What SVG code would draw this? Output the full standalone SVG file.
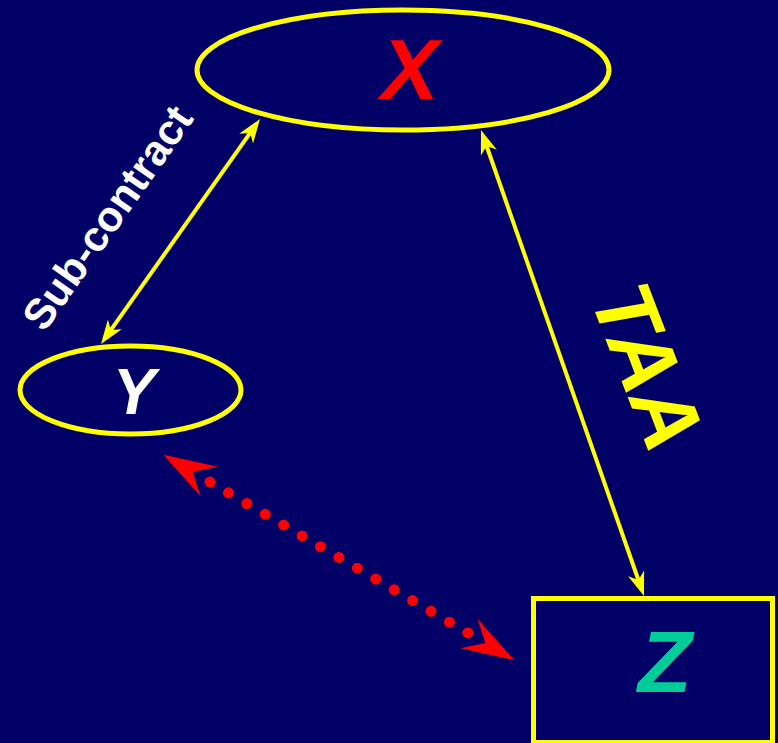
<svg xmlns="http://www.w3.org/2000/svg" width="778" height="743" viewBox="0 0 778 743">
<defs>
<style>
.node{fill:none;stroke:#FFFF00;stroke-width:5}
.lbl{font-family:"Liberation Sans",Arial,sans-serif;font-weight:bold;font-style:italic;text-anchor:middle}
.yl{fill:none;stroke:#FFFF00;stroke-width:4}
.dots{fill:none;stroke:#FF0000;stroke-width:11;stroke-linecap:round;stroke-dasharray:0 21.34}
</style>
<marker id="ya" markerUnits="userSpaceOnUse" orient="auto-start-reverse" refX="0" refY="0" markerWidth="40" markerHeight="40" viewBox="-20 -20 40 40" overflow="visible">
<path d="M17,0 L-7,-8.5 L0,0 L-7,8.5 Z" fill="#FFFF00"/>
</marker>
<marker id="ra" markerUnits="userSpaceOnUse" orient="auto-start-reverse" refX="0" refY="0" markerWidth="120" markerHeight="120" viewBox="-60 -60 120 120" overflow="visible">
<path d="M54,0 L1,-17 L20,0 L1,17 Z" fill="#FF0000"/>
</marker>
</defs>
<rect width="778" height="743" fill="#000066"/>
<g id="connectors">
<path class="yl" d="M250.2,132.9 L110.8,330.1" marker-start="url(#ya)" marker-end="url(#ya)"/>
<path class="yl" d="M486.6,146 L638.4,580" marker-start="url(#ya)" marker-end="url(#ya)"/>
<path class="dots" d="M210,482 L468,633" marker-start="url(#ra)" marker-end="url(#ra)"/>
<text class="lbl" style="font-style:normal" font-size="42.5" fill="#FFFFFF" transform="translate(119.5,226) rotate(-55)">Sub-contract</text>
<text class="lbl" font-size="86" fill="#FFFF00" transform="translate(620,377) rotate(69)">TAA</text>
</g>
<g id="nodeX">
<ellipse class="node" cx="403" cy="70" rx="206" ry="60"/>
<text class="lbl" x="410" y="99" font-size="86" fill="#FF0000">X</text>
</g>
<g id="nodeY">
<ellipse class="node" cx="130.5" cy="390" rx="110.5" ry="44"/>
<text class="lbl" x="134" y="414" font-size="64" fill="#FFFFFF">Y</text>
</g>
<g id="nodeZ">
<rect class="node" x="533.5" y="598.5" width="239" height="144"/>
<text class="lbl" x="665" y="692" font-size="88" fill="#00CC99">Z</text>
</g>
</svg>
